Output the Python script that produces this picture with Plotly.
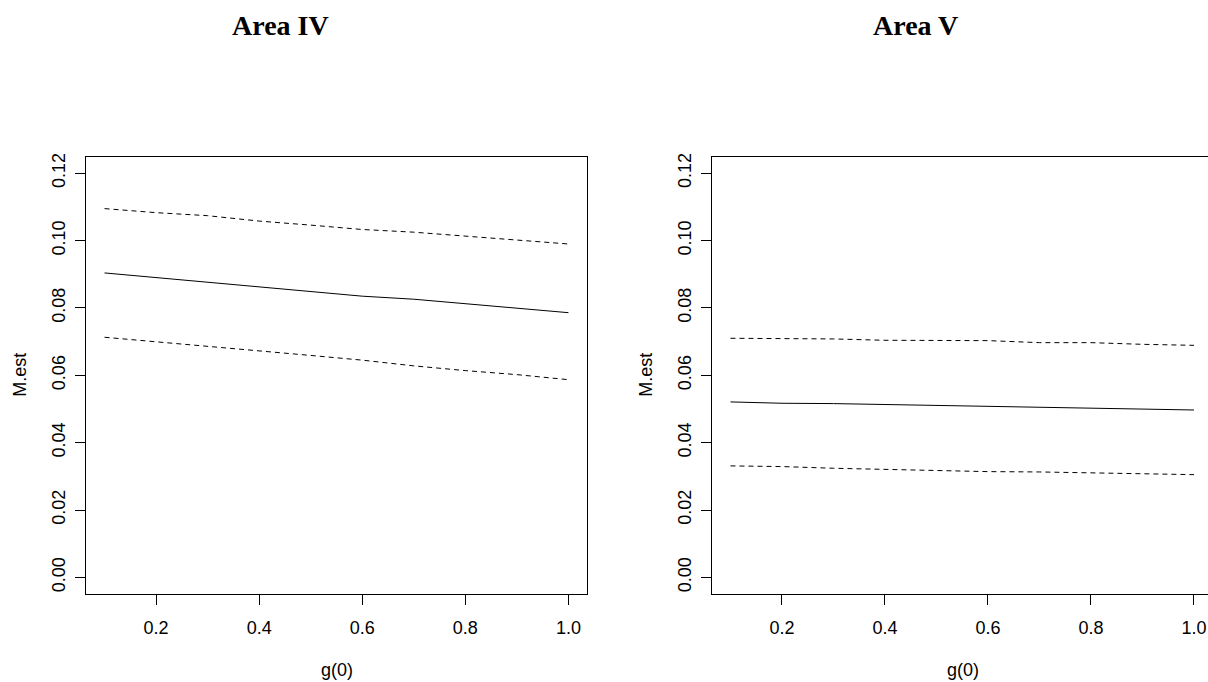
import plotly.graph_objects as go

g0 = [0.1, 0.2, 0.3, 0.4, 0.5, 0.6, 0.7, 0.8, 0.9, 1.0]

# Area IV
iv_est = [0.0904, 0.0890, 0.0877, 0.0863, 0.0849, 0.0835, 0.0826, 0.0813, 0.0800, 0.0786]
iv_upper = [0.1095, 0.1083, 0.1074, 0.1058, 0.1046, 0.1033, 0.1025, 0.1013, 0.1001, 0.0990]
iv_lower = [0.0713, 0.0700, 0.0686, 0.0672, 0.0659, 0.0645, 0.0628, 0.0614, 0.0602, 0.0587]

# Area V
v_est = [0.0521, 0.0517, 0.0516, 0.0513, 0.0510, 0.0507, 0.0504, 0.0503, 0.0500, 0.0497]
v_upper = [0.0710, 0.0710, 0.0708, 0.0704, 0.0704, 0.0703, 0.0697, 0.0697, 0.0692, 0.0689]
v_lower = [0.0331, 0.0329, 0.0324, 0.0320, 0.0317, 0.0314, 0.0313, 0.0310, 0.0308, 0.0305]

titles = ["Area IV", "Area V"]
x_ticks = [0.2, 0.4, 0.6, 0.8, 1.0]
x_ticklabels = ["0.2", "0.4", "0.6", "0.8", "1.0"]
y_ticks = [0.00, 0.02, 0.04, 0.06, 0.08, 0.10, 0.12]
y_ticklabels = ["0.00", "0.02", "0.04", "0.06", "0.08", "0.10", "0.12"]

W, H = 1208, 682
fig = go.Figure()

dash = "5px,4px"
for i, (est, up, lo) in enumerate([(iv_est, iv_upper, iv_lower), (v_est, v_upper, v_lower)]):
    xa = "x" if i == 0 else "x2"
    ya = "y" if i == 0 else "y2"
    fig.add_trace(go.Scatter(x=g0, y=est, mode="lines", line=dict(color="black", width=1),
                             xaxis=xa, yaxis=ya, showlegend=False))
    fig.add_trace(go.Scatter(x=g0, y=up, mode="lines", line=dict(color="black", width=1, dash=dash),
                             xaxis=xa, yaxis=ya, showlegend=False))
    fig.add_trace(go.Scatter(x=g0, y=lo, mode="lines", line=dict(color="black", width=1, dash=dash),
                             xaxis=xa, yaxis=ya, showlegend=False))

tickfont = dict(family="Liberation Sans, Arial, sans-serif", size=18, color="black")
common_x = dict(showline=True, linecolor="black", linewidth=1, mirror=True, ticks="outside",
                ticklen=10, tickcolor="black", tickwidth=1, showgrid=False, zeroline=False,
                tickvals=x_ticks, ticktext=x_ticklabels, tickfont=tickfont, ticklabelstandoff=8)
common_y = dict(showline=True, linecolor="black", linewidth=1, ticks="outside",
                ticklen=10, tickcolor="black", tickwidth=1, showgrid=False, zeroline=False,
                tickvals=y_ticks, ticktext=y_ticklabels, tickfont=tickfont, tickangle=-90,
                range=[-0.0048, 0.1248], ticklabelstandoff=3)

ydom = [1 - 593 / H, 1 - 154 / H]
fig.update_layout(
    width=W, height=H,
    margin=dict(l=0, r=0, t=0, b=0),
    paper_bgcolor="white", plot_bgcolor="white",
    xaxis=dict(domain=[86 / W, 587 / W], range=[0.064, 1.036], anchor="y", **common_x),
    yaxis=dict(domain=ydom, anchor="x", mirror=True, **common_y),
    xaxis2=dict(domain=[712 / W, 1.0], range=[0.0641, 1.0272], anchor="y2", **common_x),
    # right panel's box runs past the page edge, so its right border is not drawn
    yaxis2=dict(domain=ydom, anchor="x2", mirror=False, **common_y),
)

title_font = dict(family="Liberation Serif, Times New Roman, serif", size=28, color="black")
label_font = dict(family="Liberation Sans, Arial, sans-serif", size=18, color="black")
for cx, t in zip([280, 915], titles):
    fig.add_annotation(x=cx / W, y=1 - 22 / H, xref="paper", yref="paper", text="<b>%s</b>" % t,
                       showarrow=False, font=title_font, xanchor="center", yanchor="middle")
for cx in [337, 963]:
    fig.add_annotation(x=cx / W, y=1 - 670 / H, xref="paper", yref="paper", text="g(0)",
                       showarrow=False, font=label_font, xanchor="center", yanchor="middle")
for cx in [20, 646]:
    fig.add_annotation(x=cx / W, y=1 - 373 / H, xref="paper", yref="paper", text="M.est",
                       showarrow=False, font=label_font, textangle=-90,
                       xanchor="center", yanchor="middle")

fig.write_html(
    "out.html",
    config={"displayModeBar": False},
    post_script="document.body.style.margin='0';document.body.style.overflow='hidden';",
)
